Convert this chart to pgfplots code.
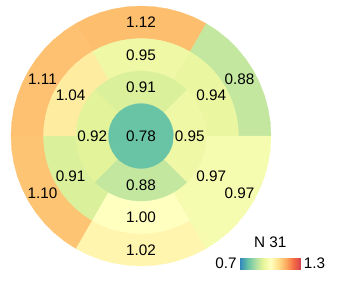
\documentclass[border=0pt]{standalone}
\usepackage{fontspec}
\setmainfont{Liberation Sans}
\usepackage{pgfplots}
\pgfplotsset{compat=1.18}
\definecolor{c078}{RGB}{105,195,165}
\definecolor{c088}{RGB}{195,231,159}
\definecolor{c091}{RGB}{218,240,154}
\definecolor{c092}{RGB}{226,243,153}
\definecolor{c094}{RGB}{235,247,160}
\definecolor{c095}{RGB}{238,248,165}
\definecolor{c097}{RGB}{245,251,175}
\definecolor{c100}{RGB}{255,255,191}
\definecolor{c102}{RGB}{255,245,175}
\definecolor{c104}{RGB}{254,236,161}
\definecolor{c110}{RGB}{253,196,116}
\definecolor{c111}{RGB}{253,193,113}
\definecolor{c112}{RGB}{253,190,110}
\newcommand{\lbl}{\fontsize{11}{13}\selectfont}
\begin{document}
\begin{tikzpicture}
\begin{axis}[
  x=23.4pt, y=23.4pt,
  xmin=-4.338, xmax=6.185, ymin=-4.492, ymax=4.185,
  hide axis, clip=false,
  colormap={spec}{rgb255=(50,136,189) rgb255=(102,194,165) rgb255=(171,221,164) rgb255=(230,245,152) rgb255=(255,255,191) rgb255=(254,224,139) rgb255=(253,174,97) rgb255=(244,109,67) rgb255=(213,62,79)},
  point meta min=0.7, point meta max=1.3,
  seg/.style={data cs=polar, line width=0.2pt},
]
\path (axis cs:-4.338,-4.492) rectangle (axis cs:6.185,4.185);
% outer ring (basal)
\addplot[seg, fill=c088, draw=c088] coordinates {(0,4) (6,4) (12,4) (18,4) (24,4) (30,4) (36,4) (42,4) (48,4) (54,4) (60,4) (60,3) (54,3) (48,3) (42,3) (36,3) (30,3) (24,3) (18,3) (12,3) (6,3) (0,3)};
\addplot[seg, fill=c112, draw=c112] coordinates {(60,4) (66,4) (72,4) (78,4) (84,4) (90,4) (96,4) (102,4) (108,4) (114,4) (120,4) (120,3) (114,3) (108,3) (102,3) (96,3) (90,3) (84,3) (78,3) (72,3) (66,3) (60,3)};
\addplot[seg, fill=c111, draw=c111] coordinates {(120,4) (126,4) (132,4) (138,4) (144,4) (150,4) (156,4) (162,4) (168,4) (174,4) (180,4) (180,3) (174,3) (168,3) (162,3) (156,3) (150,3) (144,3) (138,3) (132,3) (126,3) (120,3)};
\addplot[seg, fill=c110, draw=c110] coordinates {(180,4) (186,4) (192,4) (198,4) (204,4) (210,4) (216,4) (222,4) (228,4) (234,4) (240,4) (240,3) (234,3) (228,3) (222,3) (216,3) (210,3) (204,3) (198,3) (192,3) (186,3) (180,3)};
\addplot[seg, fill=c102, draw=c102] coordinates {(240,4) (246,4) (252,4) (258,4) (264,4) (270,4) (276,4) (282,4) (288,4) (294,4) (300,4) (300,3) (294,3) (288,3) (282,3) (276,3) (270,3) (264,3) (258,3) (252,3) (246,3) (240,3)};
\addplot[seg, fill=c097, draw=c097] coordinates {(300,4) (306,4) (312,4) (318,4) (324,4) (330,4) (336,4) (342,4) (348,4) (354,4) (360,4) (360,3) (354,3) (348,3) (342,3) (336,3) (330,3) (324,3) (318,3) (312,3) (306,3) (300,3)};
% mid ring
\addplot[seg, fill=c094, draw=c094] coordinates {(0,3) (6,3) (12,3) (18,3) (24,3) (30,3) (36,3) (42,3) (48,3) (54,3) (60,3) (60,2) (54,2) (48,2) (42,2) (36,2) (30,2) (24,2) (18,2) (12,2) (6,2) (0,2)};
\addplot[seg, fill=c095, draw=c095] coordinates {(60,3) (66,3) (72,3) (78,3) (84,3) (90,3) (96,3) (102,3) (108,3) (114,3) (120,3) (120,2) (114,2) (108,2) (102,2) (96,2) (90,2) (84,2) (78,2) (72,2) (66,2) (60,2)};
\addplot[seg, fill=c104, draw=c104] coordinates {(120,3) (126,3) (132,3) (138,3) (144,3) (150,3) (156,3) (162,3) (168,3) (174,3) (180,3) (180,2) (174,2) (168,2) (162,2) (156,2) (150,2) (144,2) (138,2) (132,2) (126,2) (120,2)};
\addplot[seg, fill=c091, draw=c091] coordinates {(180,3) (186,3) (192,3) (198,3) (204,3) (210,3) (216,3) (222,3) (228,3) (234,3) (240,3) (240,2) (234,2) (228,2) (222,2) (216,2) (210,2) (204,2) (198,2) (192,2) (186,2) (180,2)};
\addplot[seg, fill=c100, draw=c100] coordinates {(240,3) (246,3) (252,3) (258,3) (264,3) (270,3) (276,3) (282,3) (288,3) (294,3) (300,3) (300,2) (294,2) (288,2) (282,2) (276,2) (270,2) (264,2) (258,2) (252,2) (246,2) (240,2)};
\addplot[seg, fill=c097, draw=c097] coordinates {(300,3) (306,3) (312,3) (318,3) (324,3) (330,3) (336,3) (342,3) (348,3) (354,3) (360,3) (360,2) (354,2) (348,2) (342,2) (336,2) (330,2) (324,2) (318,2) (312,2) (306,2) (300,2)};
% inner ring (apical)
\addplot[seg, fill=c091, draw=c091] coordinates {(45,2) (51,2) (57,2) (63,2) (69,2) (75,2) (81,2) (87,2) (93,2) (99,2) (105,2) (111,2) (117,2) (123,2) (129,2) (135,2) (135,1) (129,1) (123,1) (117,1) (111,1) (105,1) (99,1) (93,1) (87,1) (81,1) (75,1) (69,1) (63,1) (57,1) (51,1) (45,1)};
\addplot[seg, fill=c092, draw=c092] coordinates {(135,2) (141,2) (147,2) (153,2) (159,2) (165,2) (171,2) (177,2) (183,2) (189,2) (195,2) (201,2) (207,2) (213,2) (219,2) (225,2) (225,1) (219,1) (213,1) (207,1) (201,1) (195,1) (189,1) (183,1) (177,1) (171,1) (165,1) (159,1) (153,1) (147,1) (141,1) (135,1)};
\addplot[seg, fill=c088, draw=c088] coordinates {(225,2) (231,2) (237,2) (243,2) (249,2) (255,2) (261,2) (267,2) (273,2) (279,2) (285,2) (291,2) (297,2) (303,2) (309,2) (315,2) (315,1) (309,1) (303,1) (297,1) (291,1) (285,1) (279,1) (273,1) (267,1) (261,1) (255,1) (249,1) (243,1) (237,1) (231,1) (225,1)};
\addplot[seg, fill=c095, draw=c095] coordinates {(315,2) (321,2) (327,2) (333,2) (339,2) (345,2) (351,2) (357,2) (363,2) (369,2) (375,2) (381,2) (387,2) (393,2) (399,2) (405,2) (405,1) (399,1) (393,1) (387,1) (381,1) (375,1) (369,1) (363,1) (357,1) (351,1) (345,1) (339,1) (333,1) (327,1) (321,1) (315,1)};
% apex
\addplot[seg, fill=c078, draw=c078] coordinates {(0,1) (10,1) (20,1) (30,1) (40,1) (50,1) (60,1) (70,1) (80,1) (90,1) (100,1) (110,1) (120,1) (130,1) (140,1) (150,1) (160,1) (170,1) (180,1) (190,1) (200,1) (210,1) (220,1) (230,1) (240,1) (250,1) (260,1) (270,1) (280,1) (290,1) (300,1) (310,1) (320,1) (330,1) (340,1) (350,1)};
% labels
\addplot[only marks, mark=none, data cs=polar, point meta=explicit symbolic,
  nodes near coords, nodes near coords style={anchor=center, inner sep=0pt, font=\lbl, text=black}]
  table[meta=lab] {
ang r lab
0 0 0.78
90 1.5 0.91
180 1.5 0.92
270 1.5 0.88
0 1.5 0.95
30 2.5 0.94
90 2.5 0.95
150 2.5 1.04
210 2.5 0.91
270 2.5 1.00
330 2.5 0.97
30 3.5 0.88
90 3.5 1.12
150 3.5 1.11
210 3.5 1.10
270 3.5 1.02
330 3.5 0.97
};
% colorbar
\addplot[surf, shader=interp, point meta=explicit, mesh/cols=2] coordinates {
(3.046,-4.102) [0.7] (4.914,-4.102) [1.3]
(3.046,-3.745) [0.7] (4.914,-3.745) [1.3]
};
\node[font=\lbl, anchor=center] at (axis cs:3.98,-3.262) {N 31};
\node[font=\lbl, anchor=east, inner sep=0pt] at (axis cs:2.95,-3.923) {0.7};
\node[font=\lbl, anchor=west, inner sep=0pt] at (axis cs:5.0,-3.923) {1.3};
\end{axis}
\end{tikzpicture}
\end{document}
